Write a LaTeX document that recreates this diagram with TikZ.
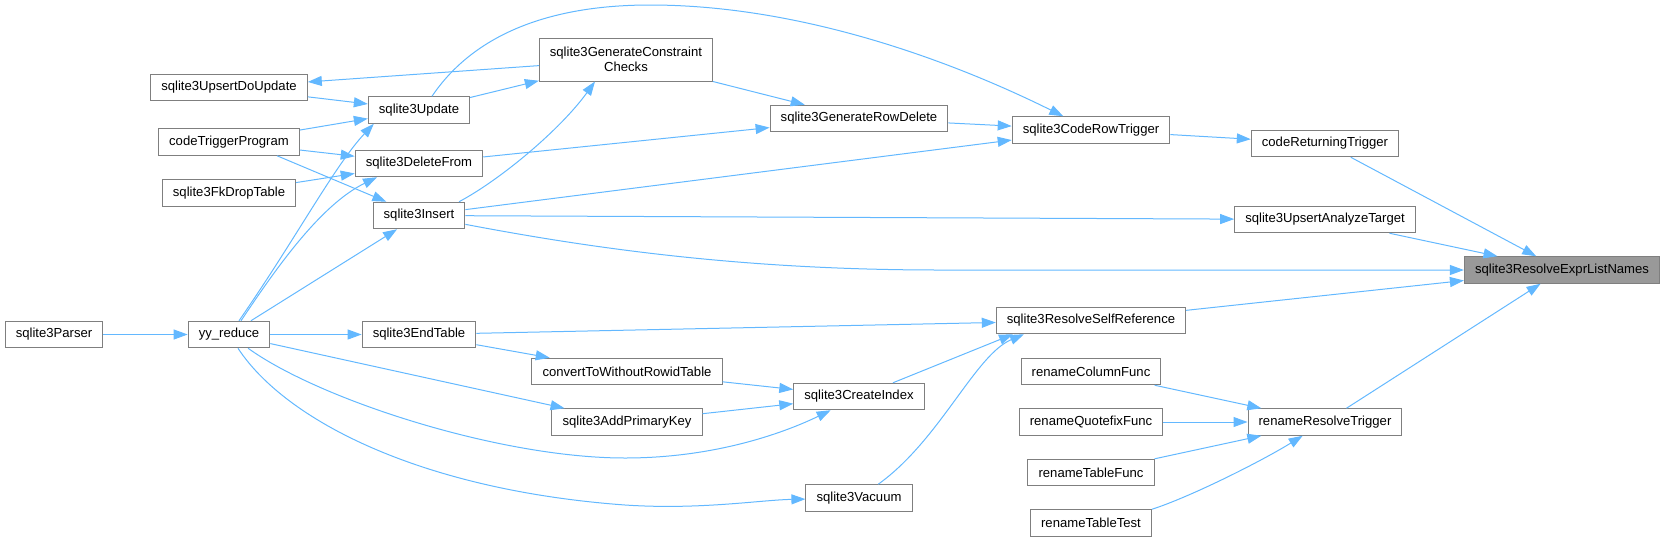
\documentclass[tikz,border=0pt]{standalone}
\usepackage{fontspec}
\setmainfont{Liberation Sans}
\usepackage{tikz}
\usetikzlibrary{arrows.meta}
\definecolor{edgeblue}{HTML}{63B8FF}
\definecolor{boxgrey}{HTML}{7F7F7F}
\definecolor{selgrey}{HTML}{999999}
\tikzset{
    func/.style={
           rectangle,
           draw=boxgrey, line width=1pt,
           fill=white,
           minimum height=26.5pt,
           inner xsep=10.6pt,
           inner ysep=2pt,
           font=\fontsize{13.1}{15}\selectfont,
           text centered,
           },
    call/.style={edgeblue, line width=1pt},
}
\begin{document}
\begin{tikzpicture}[x=1pt,y=-1pt,>={Triangle[length=14pt,width=10pt]}]
      \useasboundingbox (0,0) rectangle (1666,542);
      \node[func] (parser) at (54,334.5)   {sqlite3Parser};
      \node[func] (yy)     at (229,334.5)  {yy\_reduce};
      \node[func] (udu)    at (229,87.5)   {sqlite3UpsertDoUpdate};
      \node[func] (ctp)    at (229,142)    {codeTriggerProgram};
      \node[func] (fkdrop) at (229,193)    {sqlite3FkDropTable};
      \node[func] (upd)    at (419,110)    {sqlite3Update};
      \node[func] (del)    at (419,163.5)  {sqlite3DeleteFrom};
      \node[func] (ins)    at (419,215.5)  {sqlite3Insert};
      \node[func] (endt)   at (419,334.5)  {sqlite3EndTable};
      \node[func, minimum height=43pt, align=center] (gcc) at (626,59.5)
            {sqlite3GenerateConstraint\\Checks};
      \node[func] (conv)   at (627,371.5)  {convertToWithoutRowidTable};
      \node[func] (addpk)  at (627,422)    {sqlite3AddPrimaryKey};
      \node[func] (grd)    at (859,118.5)  {sqlite3GenerateRowDelete};
      \node[func] (cidx)   at (859,396.5)  {sqlite3CreateIndex};
      \node[func] (vac)    at (859,498)    {sqlite3Vacuum};
      \node[func] (crt)    at (1091,130)   {sqlite3CodeRowTrigger};
      \node[func] (rsr)    at (1091,320.5) {sqlite3ResolveSelfReference};
      \node[func] (rcol)   at (1091,371.5) {renameColumnFunc};
      \node[func] (rquote) at (1091,422)   {renameQuotefixFunc};
      \node[func] (rtfunc) at (1091,472.5) {renameTableFunc};
      \node[func] (rttest) at (1091,523)   {renameTableTest};
      \node[func] (cret)   at (1325,143.5) {codeReturningTrigger};
      \node[func] (uat)    at (1325,219.5) {sqlite3UpsertAnalyzeTarget};
      \node[func] (rrt)    at (1325,422)   {renameResolveTrigger};
      \node[func, fill=selgrey] (reln) at (1562,270) {sqlite3ResolveExprListNames};
      \path[->, call]
      (parser) edge (yy)
      (yy) edge (ins)
      (yy) edge (endt)
      (yy) edge (addpk)
      (udu) edge (upd)
      (ctp) edge (upd)
      (ctp) edge (del)
      ([xshift=48pt]ctp.south) edge (ins)
      (fkdrop) edge (del)
      (gcc) edge (udu)
      (upd) edge (gcc)
      (gcc) edge (grd)
      (del) edge (grd)
      (grd) edge (crt)
      (ins) edge (crt)
      (ins) edge (uat)
      (crt) edge (cret)
      (cret) edge (reln)
      (uat) edge (reln)
      (rsr) edge (reln)
      (rrt) edge (reln)
      (endt) edge (rsr)
      (endt) edge (conv)
      (conv) edge (cidx)
      (addpk) edge (cidx)
      (cidx) edge ([xshift=-78pt]rsr.south)
      (rcol) edge (rrt)
      (rquote) edge (rrt)
      (rtfunc) edge (rrt);
      % curved calls
      \draw[->, call] ([xshift=10pt]yy.north) .. controls (295,240) and (335,165) .. ([xshift=6pt]upd.south west);
      \draw[->, call] ([xshift=12pt]yy.north) .. controls (275,270) and (320,205) .. ([xshift=-42pt]del.south);
      \draw[->, call] (yy) .. controls (320,400) and (500,458) .. (625,458)
            .. controls (720,458) and (790,430) .. (cidx);
      \draw[->, call] (yy) .. controls (285,420) and (420,490) .. (625,505)
            .. controls (700,510) and (760,500) .. (vac);
      \draw[->, call] ([xshift=13pt]upd.north) .. controls (470,40) and (540,5) .. (650,5)
            .. controls (800,5) and (950,60) .. (crt);
      \draw[->, call] ([xshift=40pt]ins.north) .. controls (500,180) and (560,130) .. ([xshift=-31pt]gcc.south);
      \draw[->, call] (ins) .. controls (600,250) and (750,270) .. (940,270) -- (reln);
      \draw[->, call] (vac) .. controls (940,440) and (975,355) .. ([xshift=-67pt]rsr.south);
      \draw[->, call] (rttest.north east) .. controls (1190,497) and (1260,462) .. (rrt);
\end{tikzpicture}
\end{document}
